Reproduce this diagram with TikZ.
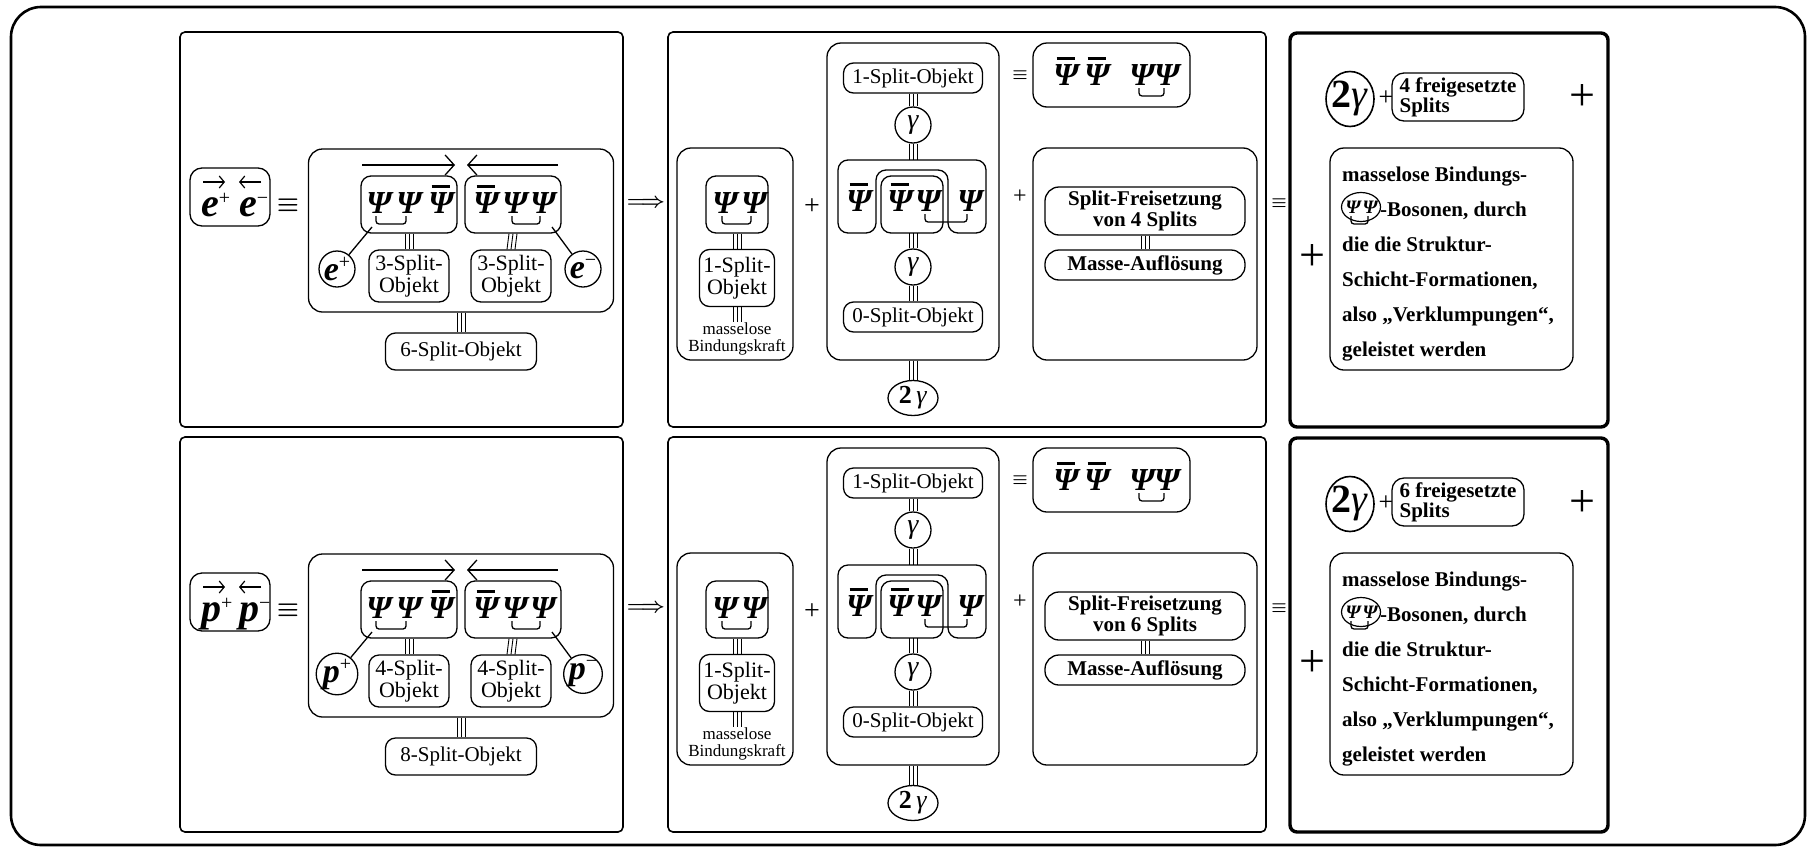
\documentclass[tikz,border=0pt]{standalone}
\usepackage{fontspec}
\setmainfont{Liberation Serif}
\newfontface\psiface{Liberation Serif Bold}[FakeSlant=0.2]
\usetikzlibrary{arrows.meta,calc,shapes.geometric}

\newcommand{\psifont}{\fontsize{32}{32}\selectfont\psiface}
\newcommand{\Pbar}{\rlap{\kern5pt\rule[25pt]{18pt}{2.7pt}}Ψ}
\newcommand{\chg}[1]{\raisebox{12pt}{\fontsize{20}{20}\selectfont\normalfont #1}}
\newcommand{\tripl}[2]{\foreach \dx in {-4,0,4} {\draw[tline] ([xshift=\dx pt]#1) -- ([xshift=\dx pt]#2);}}
\newcommand{\bond}[2]{\draw[bondln] ([xshift=-1pt,yshift=-3pt]#1.base) -- ++(0,8) -| ([xshift=-1pt,yshift=-3pt]#2.base);}

\tikzset{
  bx/.style={draw, line width=1.3pt, rounded corners=10pt, inner sep=0pt},
  sz/.style 2 args={minimum width=#1pt, minimum height=#2pt},
  panel/.style={line width=1.6pt, rounded corners=5pt},
  tline/.style={line width=0.9pt},
  bondln/.style={line width=1.3pt, rounded corners=3pt},
  circ/.style={draw, circle, line width=1.3pt, minimum size=36pt, inner sep=0pt},
  psi/.style={font=\psifont, inner sep=0pt, anchor=base},
  lbl/.style={font=\fontsize{21}{22}\selectfont, align=center},
  lbltwo/.style={font=\fontsize{22}{22}\selectfont, align=center},
  blbl/.style={font=\fontsize{21}{19}\selectfont\bfseries, align=center},
  sym/.style={inner sep=0pt},
  pfont/.style={font=\fontsize{34}{34}\selectfont\bfseries\itshape},
  gfont/.style={font=\fontsize{28}{28}\selectfont\itshape},
  barb/.style={line width=1.2pt, -{Straight Barb[length=5pt,width=12pt]}},
  bigbarb/.style={line width=1.3pt, -{Straight Barb[length=9pt,width=20pt]}}
}

\begin{document}
\begin{tikzpicture}[x=1pt, y=-1pt]
\useasboundingbox (0,0) rectangle (1811,846);
% outer frame
\draw[line width=2.6pt, rounded corners=30pt] (11,7) rectangle (1805,845);
\foreach \row/\prt/\nh/\nw/\nf in {0/e/3/6/4, 405/p/4/8/6} {
\begin{scope}[yshift=-\row pt]
  % the three panels
  \draw[panel] (180,32) rectangle (623,427);
  \draw[panel] (668,32) rectangle (1266,427);
  \draw[panel, line width=3.4pt, rounded corners=7pt] (1290,33) rectangle (1608,427);

  % --- left panel: the pair and its split objects
  \node[bx, sz={80}{58}, rounded corners=12pt] (pair) at (230,197) {};
  \node[anchor=base west, inner sep=0pt, font=\fontsize{40}{40}\selectfont\bfseries\itshape] (pa) at (201,216) {\prt\chg{+}};
  \node[anchor=base west, inner sep=0pt, font=\fontsize{40}{40}\selectfont\bfseries\itshape] (pb) at (239,216) {\prt\chg{−}};
  \draw[barb] (203,182) -- (225,182);
  \draw[barb] (261,182) -- (239,182);
  \node[sym, font=\fontsize{24.88}{25}\selectfont\boldmath] (eqA) at (288,205) {$\equiv$};
  \node[bx, sz={305}{163}, rounded corners=14pt] (bigA) at (461,230.5) {};
  \draw[bigbarb] (362,165) -- (455,165);
  \draw[bigbarb] (558,165) -- (467,165);
  \node[bx, sz={96}{57}] (triL) at (409,204.5) {};
  \node[bx, sz={96}{57}] (triR) at (513,204.5) {};
  \node[psi] (l1) at (377,213) {Ψ};
  \node[psi] (l2) at (407,213) {Ψ};
  \node[psi] (l3) at (439,213) {\Pbar};
  \node[psi] (r1) at (484,213) {\Pbar};
  \node[psi] (r2) at (513,213) {Ψ};
  \node[psi] (r3) at (541,213) {Ψ};
  \bond{l1}{l2}
  \bond{r2}{r3}
  \node[bx, sz={80}{52}, lbltwo] (hA) at (409,276) {\nh-Split-\\Objekt};
  \node[bx, sz={80}{52}, lbltwo] (hB) at (511,276) {\nh-Split-\\Objekt};
  \node[circ, pfont] (cP) at (337,269) {\prt\chg{+}};
  \node[circ, pfont] (cM) at (583,269) {\prt\chg{−}};
  \coordinate (tL) at (372,227);
  \coordinate (tR) at (552,227);
  \draw[line width=1.3pt] (cP) -- (tL);
  \draw[line width=1.3pt] (cM) -- (tR);
  \tripl{triL.south}{hA.north}
  \tripl{triR.south}{hB.north}
  \node[bx, sz={151}{37}, lbl] (whole) at (461,351.5) {\nw-Split-Objekt};
  \tripl{bigA.south}{whole.north}

  % --- middle panel
  \node[sym, font=\fontsize{20.74}{21}\selectfont\boldmath] (impl) at (646,203) {$\Longrightarrow$};
  \node[bx, sz={116}{212}, rounded corners=14pt] (subA) at (735,254) {};
  \node[bx, sz={62}{57}] (duo) at (737,204.5) {};
  \node[psi] (d1) at (723,213) {Ψ};
  \node[psi] (d2) at (752,213) {Ψ};
  \bond{d1}{d2}
  \node[bx, sz={75}{57}, lbltwo] (oneS) at (737,278) {1-Split-\\Objekt};
  \tripl{duo.south}{oneS.north}
  \node[font=\fontsize{17}{17}\selectfont, align=center, inner sep=0pt, anchor=north] (mlos) at (737,322) {masselose\\Bindungskraft};
  \tripl{oneS.south}{mlos.north}
  \node[sym, font=\fontsize{28}{28}\selectfont] (plA) at (812,207) {+};
  \node[bx, sz={172}{317}, rounded corners=14pt] (subB) at (913,201.5) {};
  \node[bx, sz={139}{30}, lbl] (oneT) at (913,78) {1-Split-Objekt};
  \node[circ, gfont] (gA) at (913,125) {γ};
  \coordinate (grpT) at (913,160);
  \coordinate (grpB) at (913,233);
  \draw[bx] (838,200) -- (838,160) -- (986,160) -- (986,233) -- (948,233) -- (948,170)
    -- (876,170) -- (876,233) -- (838,233) -- cycle;
  \node[bx, sz={62}{57}] (pin) at (912,204.5) {};
  \node[psi] (g1) at (857,211) {\Pbar};
  \node[psi] (g2) at (898,211) {\Pbar};
  \node[psi] (g3) at (926,211) {Ψ};
  \node[psi] (g4) at (968,211) {Ψ};
  \bond{g3}{g4}
  \tripl{oneT.south}{gA.north}
  \tripl{gA.south}{grpT}
  \node[circ, gfont] (gB) at (913,267) {γ};
  \tripl{grpB}{gB.north}
  \node[bx, sz={139}{30}, lbl] (zeroS) at (913,317) {0-Split-Objekt};
  \tripl{gB.south}{zeroS.north}
  \node[draw, ellipse, line width=1.3pt, sz={50}{35}, inner sep=0pt, font=\fontsize{26}{26}\selectfont] (twoA) at (913,398) {\textbf{2}\,\textit{γ}};
  \tripl{subB.south}{twoA.north}

  \node[sym, font=\fontsize{17.28}{18}\selectfont\boldmath] (eqB) at (1020,75) {$\equiv$};
  \node[bx, sz={157}{64}, rounded corners=14pt] (quad) at (1111.5,75) {};
  \node[psi] (q1) at (1064,85) {\Pbar};
  \node[psi] (q2) at (1095,85) {\Pbar};
  \node[psi] (q3) at (1140,85) {Ψ};
  \node[psi] (q4) at (1165,85) {Ψ};
  \bond{q3}{q4}
  \node[sym, font=\fontsize{24}{24}\selectfont] (plB) at (1020,197) {+};
  \node[bx, sz={224}{212}, rounded corners=14pt] (subC) at (1145,254) {};
  \node[bx, sz={200}{48}, rounded corners=14pt, blbl] (frei) at (1145,211) {Split-Freisetzung\\von \nf{} Splits};
  \node[bx, sz={200}{30}, rounded corners=14pt, blbl] (masse) at (1145,265) {Masse-Auflösung};
  \tripl{frei.south}{masse.north}
  \node[sym, font=\fontsize{17.28}{18}\selectfont\boldmath] (eqC) at (1279,203) {$\equiv$};

  % --- right panel
  \node[draw, ellipse, line width=1.6pt, sz={48}{55}, inner sep=0pt, font=\fontsize{40}{40}\selectfont] (twoB) at (1350,99) {\makebox[0pt]{\textbf{2}\textit{γ}}};
  \node[sym, font=\fontsize{26}{26}\selectfont] (plC) at (1386,98) {+};
  \node[bx, sz={132}{48}, rounded corners=12pt, font=\fontsize{21}{20}\selectfont\bfseries, align=left] (freig) at (1458,97) {\nf{} freigesetzte\\Splits};
  \node[sym, font=\fontsize{46}{46}\selectfont] (plD) at (1582,98) {+};
  \node[bx, sz={243}{222}, rounded corners=14pt] (txtbox) at (1451.5,259) {};
  \node[sym, font=\fontsize{46}{46}\selectfont] (plE) at (1312,258) {+};
  \node[anchor=north west, inner sep=0pt, align=left, font=\fontsize{21}{35}\selectfont\bfseries] (mtxt) at (1342,167)
    {masselose Bindungs-\\\hspace*{38pt}-Bosonen, durch\\die die Struktur-\\Schicht-Formationen,\\also „Verklumpungen“,\\geleistet werden};
  \node[draw, ellipse, line width=1.2pt, sz={39}{29}, inner sep=0pt] (boson) at (1361,207) {};
  \node[psi, font=\fontsize{19}{19}\selectfont\psiface] (b1) at (1352,213) {Ψ};
  \node[psi, font=\fontsize{19}{19}\selectfont\psiface] (b2) at (1369,213) {Ψ};
  \bond{b1}{b2}
\end{scope}
}
\end{tikzpicture}
\end{document}
